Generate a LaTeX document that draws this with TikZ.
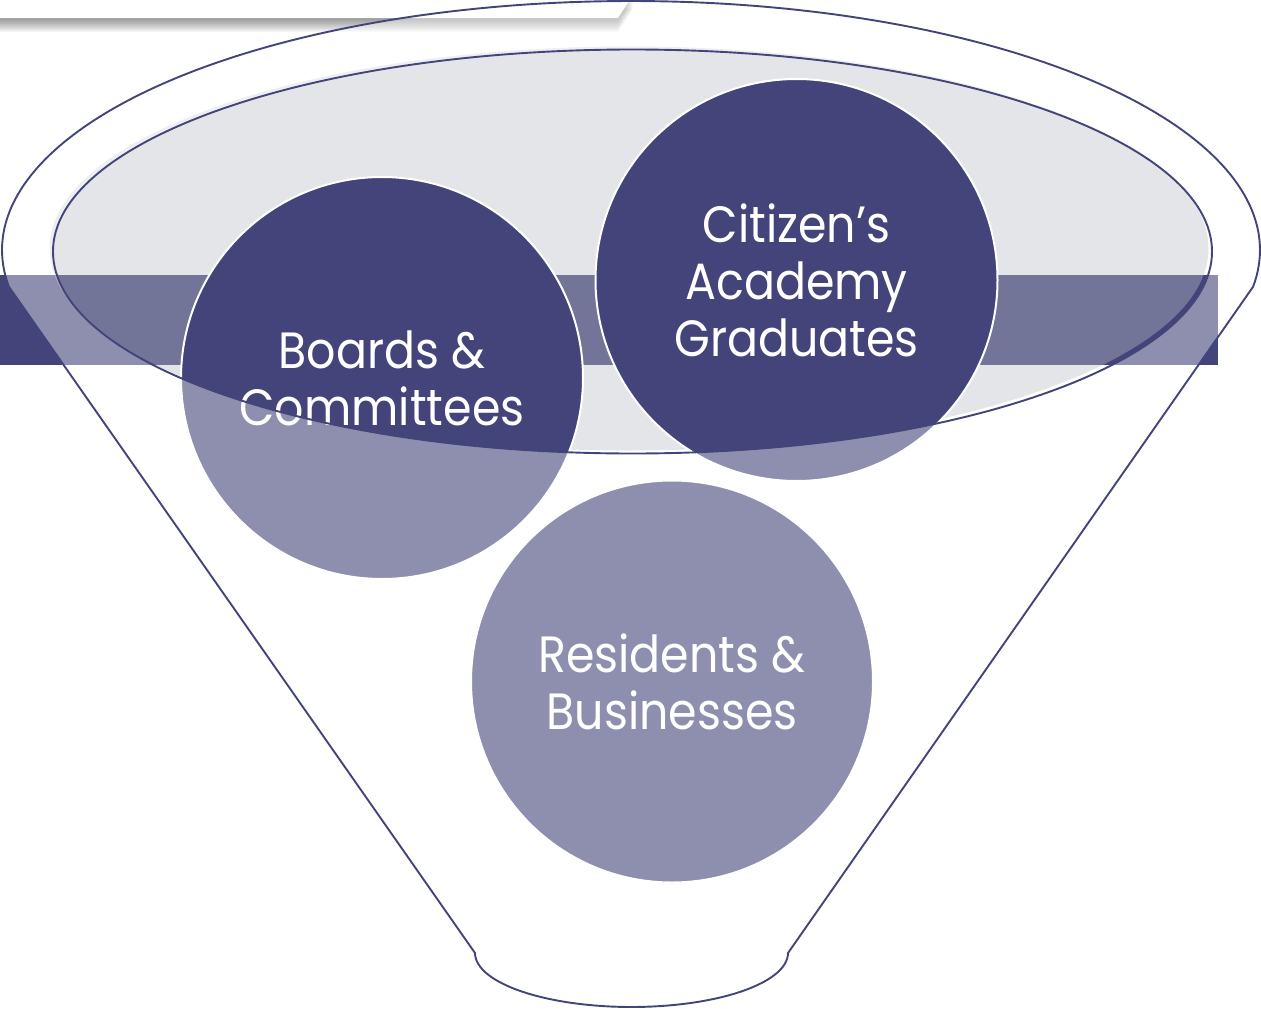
\documentclass[tikz,border=0pt]{standalone}
\usepackage{fontspec}
\setmainfont{Poppins}[FakeStretch=0.9]
\definecolor{navy}{RGB}{67,69,122}
\definecolor{ellgrey}{RGB}{188,190,199}
\begin{document}
\begin{tikzpicture}[x=1pt,y=-1pt,
  bubble/.style={circle, minimum size=402pt, inner sep=0pt, fill=navy, draw=white,
    line width=2pt, text=white, align=center, font=\fontsize{51}{57}\selectfont},
  outline/.style={draw=navy, line width=1.9pt},
  funnelshape/.style={insert path={
    plot[domain=171.5:368.5,samples=160] ({631+629*cos(\x)},{250+249*sin(\x)})
    -- (788,953)
    -- plot[domain=0:180,samples=60] ({631.5+156.5*cos(\x)},{953+54*sin(\x)})
    -- cycle}},
  innerell/.style={insert path={(632.5,251.5) ellipse [x radius=579.5, y radius=202]}},
  topbar/.style={insert path={(-5,-5) -- (633,-5) -- (618,18) -- (-5,18) -- cycle}}
]
\useasboundingbox (0,0) rectangle (1261,1009);
% shadowed top bar
\foreach \i in {1,...,14} {
  \fill[black, opacity=0.035, shift={(0,\i)}, topbar];
}
\fill[white, topbar];
% band
\fill[navy] (0,275) rectangle (1218,365);
% inner ellipse fill (slightly offset)
\fill[ellgrey, fill opacity=0.4] (629,248.5) ellipse [x radius=579.5, y radius=202];
% circles
\node[bubble] (boards) at (382,378) {Boards \&\\Committees};
\node[bubble] (citizen) at (796.5,280) {Citizen’s\\Academy\\Graduates};
\node[bubble] (residents) at (672,681.5) {Residents \&\\Businesses};
% translucent funnel body outside the inner ellipse
\fill[white, fill opacity=0.4, even odd rule, funnelshape, innerell];
% outlines
\path[outline, funnelshape];
\path[outline, innerell];
\end{tikzpicture}
\end{document}
